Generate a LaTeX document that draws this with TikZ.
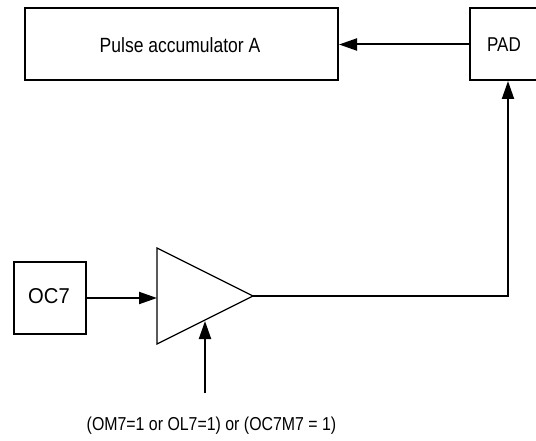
\documentclass[tikz,border=0pt]{standalone}
\usepackage{fontspec}
\setmainfont{Liberation Sans}
\newfontfamily\condf[FakeStretch=0.85]{Liberation Sans}
\newfontfamily\midf[FakeStretch=0.94]{Liberation Sans}
\usetikzlibrary{arrows.meta}
\begin{document}
\begin{tikzpicture}[x=1pt,y=-1pt,
 boxn/.style={draw,line width=2pt,inner sep=0,anchor=north west},
 lbl/.style={inner sep=0},
 conn/.style={line width=2pt,-{Triangle[length=18pt,width=12pt]}},
 plain/.style={line width=1.2pt}]
\useasboundingbox (0,0) rectangle (536,441);
\node[boxn,minimum width=313pt,minimum height=72pt] (pa) at (24,7.5) {};
\node[lbl,font=\condf\fontsize{20.6}{23}\selectfont] at (180,45) (palbl) {Pulse accumulator A};
\node[boxn,minimum width=72pt,minimum height=72pt] (pad) at (469,7.5) {};
\node[lbl,font=\condf\fontsize{20}{23}\selectfont] at (504,45) (padlbl) {PAD};
\node[boxn,minimum width=72pt,minimum height=72pt] (oc) at (13,261) {};
\node[lbl,font=\midf\fontsize{21.5}{24}\selectfont] at (49,296) (oclbl) {OC7};
\coordinate (t1) at (157,248);
\coordinate (t2) at (157,344);
\coordinate (t3) at (253,296);
\draw[plain] (t1) -- (t2) -- (t3) -- cycle;
\coordinate (cin) at (205,393);
\coordinate (cend) at (205,321);
\coordinate (inend) at (157,296);
\coordinate (paend) at (508,81);
\draw[conn] (pad.west) -- (pa.east);
\draw[conn] (oc.east) -- (inend |- oc.east);
\draw[conn] (cin) -- (cend);
\draw[conn] (t3) -- (paend |- t3) -- (paend);
\node[lbl,font=\condf\fontsize{18.7}{21}\selectfont] at (211.5,426) (cond) {(OM7=1 or OL7=1) or (OC7M7 = 1)};
\end{tikzpicture}
\end{document}
